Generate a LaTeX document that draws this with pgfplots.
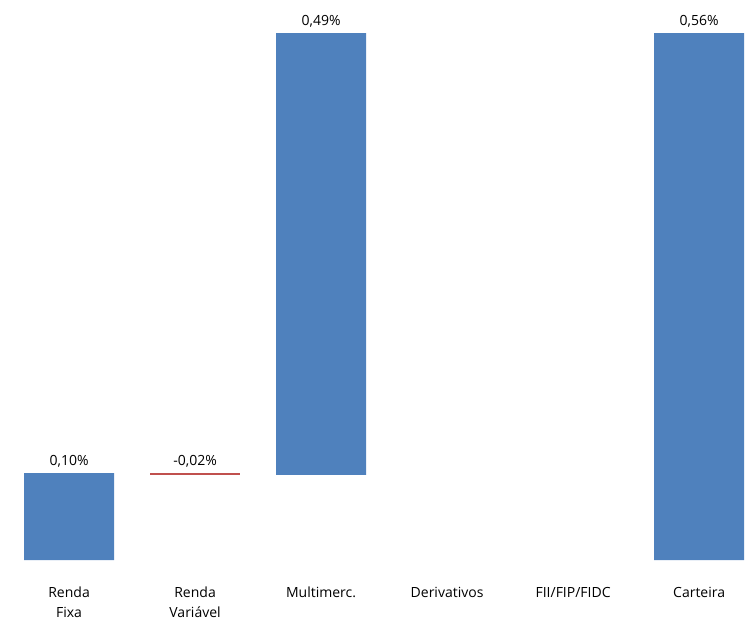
\documentclass[border=0pt]{standalone}
\usepackage{pgfplots}
\pgfplotsset{compat=1.18}
\usepackage{fontspec}
\setmainfont{Open Sans}
\definecolor{bblue}{RGB}{79,129,189}
\definecolor{bred}{RGB}{192,80,77}
\begin{document}
\fontsize{14}{20}\selectfont
\begin{tikzpicture}
\begin{axis}[
  scale only axis, width=747pt, height=560pt,
  xmin=-0.548, xmax=5.38, ymin=0, ymax=0.595,
  ybar stacked, bar width=90pt,
  axis line style={draw=none},
  major tick length=0pt,
  ytick=\empty,
  xtick={0,1,2,3,4,5},
  xticklabels={Renda\\Fixa,Renda\\Variável,Multimerc.,Derivativos,FII/FIP/FIDC,Carteira},
  xticklabel style={align=center, anchor=north, yshift=-22pt, font=\fontsize{14}{20}\selectfont},
  clip=false,
]
\addplot[draw=none, fill=none] coordinates {(0,0) (1,0.0905) (2,0.0905) (3,0) (4,0) (5,0)};
\addplot[draw=none, fill=bblue] coordinates {(0,0.0925) (1,0) (2,0.4695) (3,0) (4,0) (5,0.56)};
\addplot[draw=none, fill=bred] coordinates {(0,0) (1,0.0025) (2,0) (3,0) (4,0) (5,0)};
\node[above, yshift=1pt] at (axis cs:0,0.0925) {0,10\%};
\node[above, yshift=1pt] at (axis cs:1,0.0925) {-0,02\%};
\node[above, yshift=1pt] at (axis cs:2,0.56) {0,49\%};
\node[above, yshift=1pt] at (axis cs:5,0.56) {0,56\%};
\end{axis}
\end{tikzpicture}
\end{document}
